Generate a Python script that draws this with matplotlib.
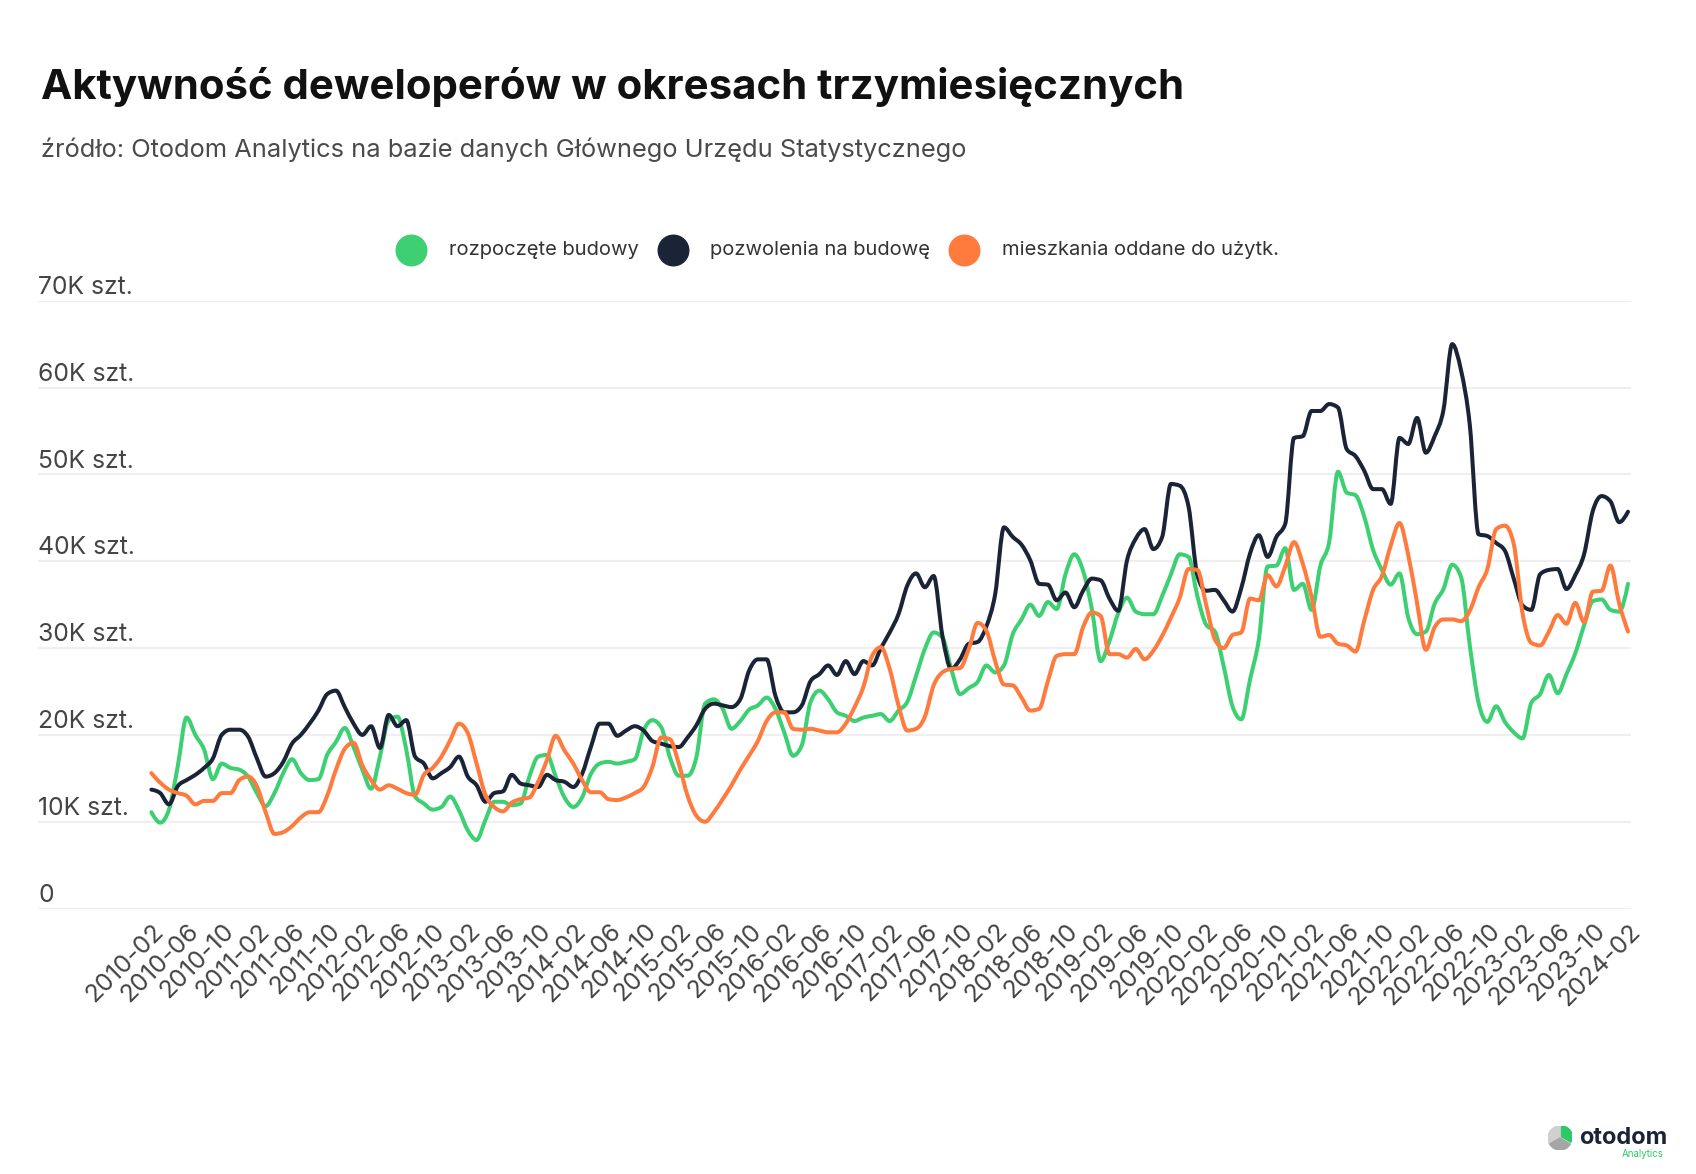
import matplotlib
matplotlib.use("Agg")
import matplotlib.pyplot as plt
from matplotlib.lines import Line2D
from matplotlib.patches import Wedge, PathPatch
from matplotlib.path import Path
import numpy as np

# ---------------- data (thousands of units, monthly, 2010-02 .. 2024-02) ----------------
start_year, start_month = 2010, 2
n_months = 169
months = [f"{start_year + (start_month - 1 + i) // 12}-{(start_month - 1 + i) % 12 + 1:02d}" for i in range(n_months)]

rozpoczete = [
    11.1, 9.9, 11.4, 16.4, 22.0, 20.0, 18.3, 14.9, 16.7, 16.2, 16.0, 15.2, 13.3, 11.8, 13.3, 15.6,
    17.2, 15.6, 14.8, 14.9, 17.7, 19.2, 20.8, 18.6, 16.0, 13.8, 17.5, 21.7, 22.1, 18.3, 12.9, 12.1,
    11.4, 11.7, 12.9, 11.3, 9.0, 7.9, 10.2, 12.3, 12.3, 11.9, 12.1, 15.2, 17.5, 17.7, 15.2, 12.8,
    11.7, 12.8, 15.5, 16.7, 16.9, 16.7, 16.9, 17.2, 20.5, 21.7, 20.9, 17.4, 15.3, 15.3, 17.4, 23.6,
    24.1, 23.0, 20.7, 21.6, 22.9, 23.4, 24.3, 23.0, 20.3, 17.6, 18.8, 23.8, 25.1, 24.1, 22.6, 22.2,
    21.6, 22.0, 22.2, 22.4, 21.6, 22.8, 23.8, 26.8, 29.9, 31.8, 31.2, 27.6, 24.7, 25.4, 26.1, 28.0,
    27.2, 28.0, 31.6, 33.3, 35.0, 33.7, 35.3, 34.5, 38.5, 40.8, 38.9, 34.5, 28.5, 30.8, 34.0, 35.8,
    34.2, 33.9, 33.9, 36.0, 38.5, 40.8, 40.5, 36.0, 32.7, 31.9, 27.9, 23.3, 21.8, 26.4, 31.0, 39.4,
    39.5, 41.5, 36.7, 37.4, 34.4, 39.5, 42.2, 50.3, 47.9, 47.6, 45.1, 41.3, 39.0, 37.3, 38.6, 33.5,
    31.6, 31.9, 35.1, 36.8, 39.6, 38.2, 30.3, 23.7, 21.5, 23.3, 21.5, 20.3, 19.6, 23.7, 24.7, 26.9,
    24.8, 27.0, 29.4, 32.6, 35.4, 35.6, 34.4, 34.2, 37.4,
]

pozwolenia = [
    13.7, 13.3, 12.0, 14.1, 14.8, 15.4, 16.2, 17.3, 20.0, 20.6, 20.6, 19.8, 17.3, 15.2, 15.6, 16.9,
    19.0, 20.0, 21.3, 22.8, 24.7, 25.1, 23.2, 21.3, 20.0, 21.0, 18.5, 22.3, 21.0, 21.7, 17.5, 16.7,
    15.0, 15.6, 16.3, 17.5, 15.2, 14.2, 12.3, 13.3, 13.5, 15.4, 14.4, 14.2, 14.0, 15.4, 14.8, 14.6,
    14.0, 15.5, 18.6, 21.3, 21.3, 19.9, 20.5, 21.0, 20.5, 19.3, 19.0, 18.7, 18.6, 19.7, 21.1, 23.0,
    23.6, 23.4, 23.2, 24.1, 27.4, 28.7, 28.7, 24.5, 22.6, 22.6, 23.4, 26.2, 27.0, 28.0, 26.9, 28.5,
    27.0, 28.5, 28.0, 30.0, 31.8, 33.9, 37.2, 38.6, 37.0, 38.3, 31.4, 27.6, 28.7, 30.5, 30.7, 32.5,
    36.2, 43.9, 42.8, 41.9, 40.1, 37.4, 37.3, 35.5, 36.4, 34.7, 36.6, 38.0, 37.8, 35.7, 34.3, 40.1,
    42.6, 43.7, 41.4, 42.8, 48.9, 48.7, 46.3, 38.4, 36.6, 36.7, 35.5, 34.2, 36.9, 40.9, 43.0, 40.5,
    42.8, 44.3, 54.2, 54.4, 57.3, 57.3, 58.1, 57.7, 52.9, 52.1, 50.4, 48.3, 48.3, 46.6, 54.2, 53.5,
    56.5, 52.5, 54.4, 57.4, 65.0, 62.0, 55.7, 43.1, 42.9, 42.1, 41.2, 38.0, 34.9, 34.4, 38.5, 39.0,
    39.1, 36.8, 38.4, 40.8, 45.8, 47.5, 46.9, 44.5, 45.7,
]

oddane = [
    15.6, 14.5, 13.7, 13.3, 13.0, 12.0, 12.4, 12.4, 13.3, 13.3, 14.8, 15.2, 14.1, 11.1, 8.6, 8.8,
    9.5, 10.5, 11.1, 11.1, 13.0, 16.0, 18.4, 19.1, 16.5, 14.8, 13.7, 14.2, 13.8, 13.3, 13.1, 15.4,
    16.2, 17.5, 19.4, 21.3, 20.2, 16.7, 13.1, 11.7, 11.2, 12.2, 12.6, 12.8, 14.6, 17.1, 19.9, 18.2,
    16.7, 14.8, 13.4, 13.4, 12.6, 12.5, 12.8, 13.3, 14.0, 16.3, 19.7, 19.5, 16.7, 13.0, 10.7, 10.0,
    11.1, 12.6, 14.2, 16.0, 17.6, 19.3, 21.6, 22.6, 22.6, 20.7, 20.6, 20.7, 20.5, 20.3, 20.3, 21.3,
    23.2, 25.5, 29.1, 30.1, 27.6, 23.4, 20.5, 20.7, 22.1, 25.7, 27.2, 27.6, 27.7, 29.9, 32.9, 32.0,
    28.5, 25.8, 25.7, 24.3, 22.8, 23.0, 26.2, 29.1, 29.3, 29.3, 32.4, 34.1, 33.7, 29.3, 29.3, 28.9,
    29.9, 28.7, 29.7, 31.4, 33.5, 35.8, 39.1, 39.0, 35.0, 31.0, 30.0, 31.5, 31.8, 35.7, 35.5, 38.4,
    37.1, 39.4, 42.2, 39.7, 35.9, 31.3, 31.5, 30.5, 30.3, 29.6, 33.2, 36.7, 38.3, 41.8, 44.4, 40.7,
    35.2, 29.8, 32.4, 33.3, 33.3, 33.1, 34.3, 37.0, 39.1, 43.7, 44.1, 42.0, 34.0, 30.6, 30.3, 31.9,
    33.8, 32.8, 35.2, 33.0, 36.5, 36.6, 39.5, 35.1, 31.9,
]

series_names = ["rozpoczęte budowy", "pozwolenia na budowę", "mieszkania oddane do użytk."]
series_colors = ["#3DD073", "#1B2337", "#FF7A3D"]
y_ticks = [0, 10, 20, 30, 40, 50, 60, 70]
y_tick_labels = ["0", "10K szt.", "20K szt.", "30K szt.", "40K szt.", "50K szt.", "60K szt.", "70K szt."]
tick_step = 4

title = "Aktywność deweloperów w okresach trzymiesięcznych"
subtitle = "źródło: Otodom Analytics na bazie danych Głównego Urzędu Statystycznego"


def monotone_path(xs, ys):
    """Monotone cubic curve through the data points as a Bezier path."""
    xs = np.asarray(xs, float)
    ys = np.asarray(ys, float)
    n = len(xs)
    h = np.diff(xs)
    s = np.diff(ys) / h
    t = np.zeros(n)
    for i in range(1, n - 1):
        s0, s1 = s[i - 1], s[i]
        p = (s0 * h[i] + s1 * h[i - 1]) / (h[i - 1] + h[i])
        t[i] = (np.sign(s0) + np.sign(s1)) * min(abs(s0), abs(s1), 0.5 * abs(p))
    t[0] = (3 * s[0] - t[1]) / 2
    t[-1] = (3 * s[-1] - t[-2]) / 2
    verts = [(xs[0], ys[0])]
    codes = [Path.MOVETO]
    for i in range(n - 1):
        d = h[i] / 3
        verts += [(xs[i] + d, ys[i] + d * t[i]), (xs[i + 1] - d, ys[i + 1] - d * t[i + 1]), (xs[i + 1], ys[i + 1])]
        codes += [Path.CURVE4] * 3
    return Path(verts, codes)


# ---------------- figure ----------------
W, H = 1696, 1174
FONT = ["Inter", "DejaVu Sans"]
plt.rcParams["font.family"] = FONT
fig = plt.figure(figsize=(W / 100, H / 100), dpi=100)
fig.patch.set_facecolor("white")


def fx(px):
    return px / W


def fy(py):
    return 1 - py / H


grid_left, grid_right = 38, 1631
x0_px, x1_px = 151.4, 1628.0
y0_px, y70_px = 908.6, 300.7
ppm = (x1_px - x0_px) / (n_months - 1)
xlim_left = 0 - (x0_px - grid_left) / ppm
xlim_right = (n_months - 1) + (grid_right - x1_px) / ppm

ax = fig.add_axes([fx(grid_left), fy(y0_px), fx(grid_right - grid_left), (y0_px - y70_px) / H])
ax.set_xlim(xlim_left, xlim_right)
ax.set_ylim(0, 70)
for s in ax.spines.values():
    s.set_visible(False)
ax.set_facecolor("none")
ax.tick_params(left=False, bottom=False, labelleft=False, labelbottom=False)

for v, lab in zip(y_ticks, y_tick_labels):
    ax.axhline(v, color="#EFEFEF", lw=1.6, zorder=0)
    ax.text(xlim_left, v + 0.2, lab, transform=ax.transData,
            ha="left", va="bottom", fontsize=17.8, color="#444444")

x = np.arange(n_months)
for vals, col in zip([rozpoczete, pozwolenia, oddane], series_colors):
    patch = PathPatch(monotone_path(x, vals), facecolor="none", edgecolor=col, lw=2.9,
                      joinstyle="round", capstyle="round", clip_on=False, zorder=3)
    ax.add_patch(patch)

# x tick labels
for i in range(0, n_months, tick_step):
    ax.text(i + 1.0, -2.2, months[i], rotation=45, rotation_mode="anchor",
            ha="right", va="center", fontsize=18, color="#444444", transform=ax.transData)

# ---------------- title, subtitle ----------------
fig.text(fx(41), fy(99), title, fontsize=30.2, fontweight="bold", color="#111111",
         ha="left", va="baseline")
fig.text(fx(41), fy(157), subtitle, fontsize=18.3, color="#4A4A4A", ha="left", va="baseline")

# ---------------- legend ----------------
leg_circles = [411, 673, 964]
leg_texts = [449, 709.5, 1001.6]
ly = 250
for cx, tx, name, col in zip(leg_circles, leg_texts, series_names, series_colors):
    fig.add_artist(Line2D([fx(cx)], [fy(ly)], marker="o", markersize=22, color=col,
                          linestyle="none", transform=fig.transFigure))
    fig.text(fx(tx), fy(ly), name, fontsize=14.5, color="#333333", ha="left", va="center")

# ---------------- logo ----------------
lax = fig.add_axes([fx(1548), fy(1150), fx(24), 24 / H])
lax.set_xlim(-1, 1); lax.set_ylim(-1, 1); lax.set_aspect("equal"); lax.axis("off")
lax.add_patch(Wedge((0, 0), 1, 90, 210, color="#D0D0D0"))
lax.add_patch(Wedge((0, 0), 1, 210, 330, color="#A6A6A6"))
lax.add_patch(Wedge((0.12, 0.1), 0.9, -30, 90, color="#2EC866"))
fig.text(fx(1667), fy(1138), "otodom", fontsize=17, fontweight="bold", color="#1B2337",
         ha="right", va="center")
fig.text(fx(1664), fy(1154), "Analytics", fontsize=7, color="#2EC866", ha="right", va="center")

fig.savefig("out.png", dpi=100, facecolor="white")
